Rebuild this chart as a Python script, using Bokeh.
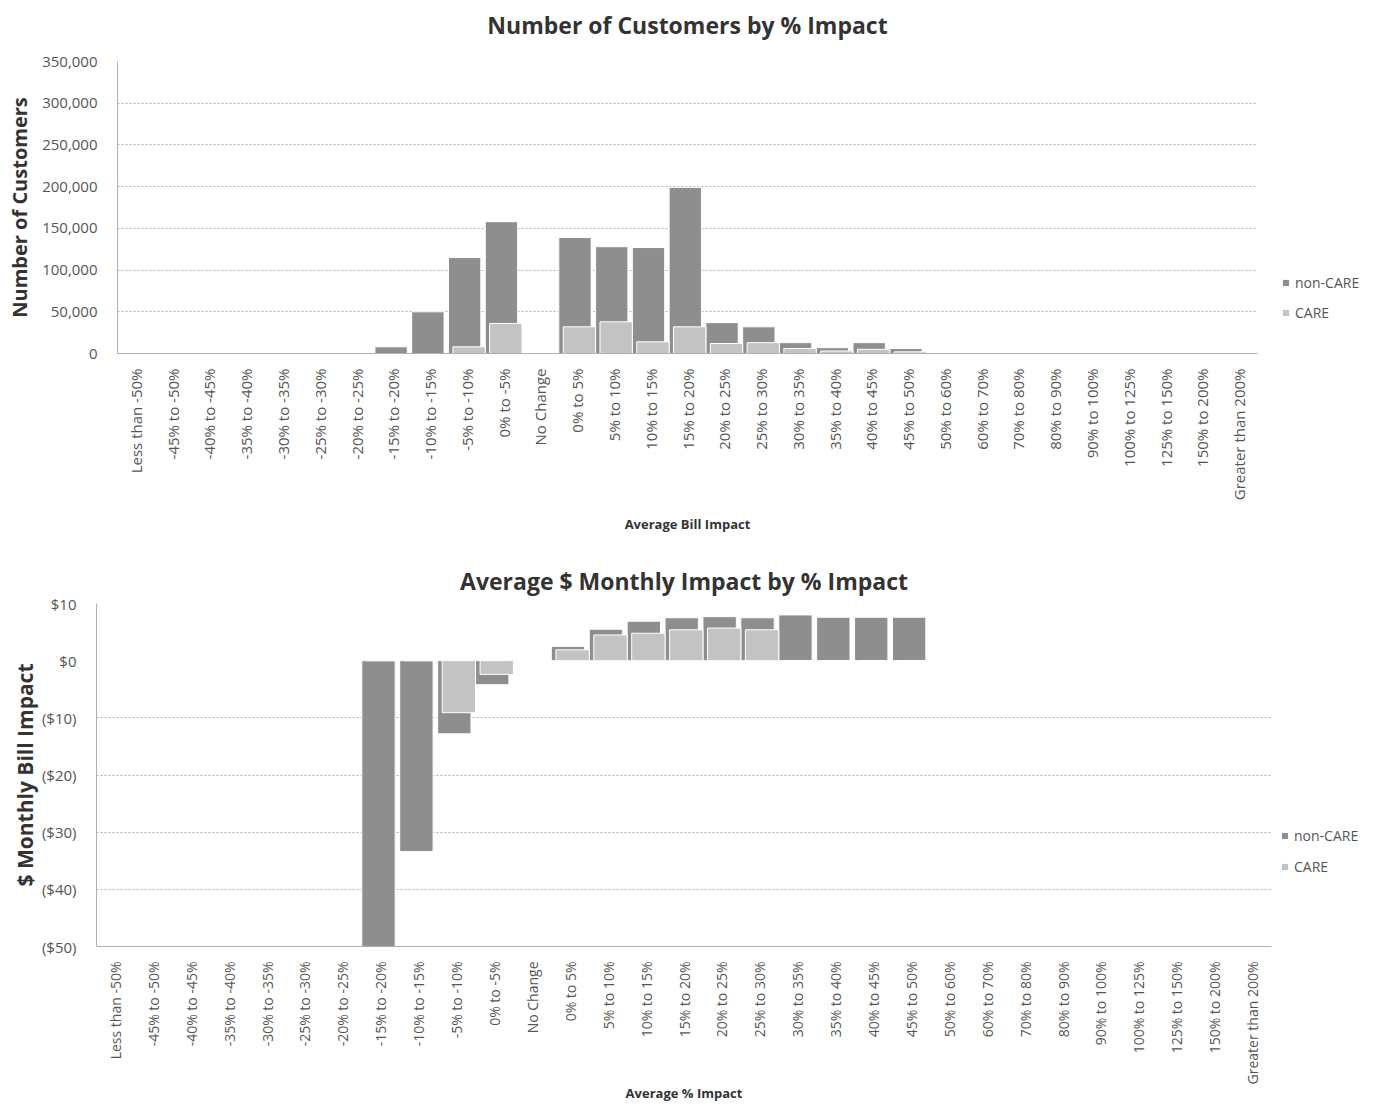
from math import pi
from bokeh.plotting import figure
from bokeh.models import (Range1d, FactorRange, Legend, LegendItem, Title,
                          FixedTicker, NumeralTickFormatter, ColumnDataSource)
from bokeh.transform import dodge
from bokeh.layouts import column, row
from bokeh.embed import file_html
from bokeh.resources import INLINE

categories = ["Less than -50%", "-45% to -50%", "-40% to -45%", "-35% to -40%",
              "-30% to -35%", "-25% to -30%", "-20% to -25%", "-15% to -20%",
              "-10% to -15%", "-5% to -10%", "0% to -5%", "No Change",
              "0% to 5%", "5% to 10%", "10% to 15%", "15% to 20%", "20% to 25%",
              "25% to 30%", "30% to 35%", "35% to 40%", "40% to 45%", "45% to 50%",
              "50% to 60%", "60% to 70%", "70% to 80%", "80% to 90%", "90% to 100%",
              "100% to 125%", "125% to 150%", "150% to 200%", "Greater than 200%"]

count_noncare = [0, 0, 0, 0, 0, 0, 0, 8000, 50000, 115000, 158000, 0,
                 139000, 128000, 127000, 199000, 37000, 32000, 13000, 7000, 13000, 6000,
                 0, 0, 0, 0, 0, 0, 0, 0, 0]
count_care = [0, 0, 0, 0, 0, 0, 0, 0, 0, 8000, 36000, 0,
              32000, 38000, 14000, 32000, 12000, 13000, 6000, 3000, 5000, 2000,
              0, 0, 0, 0, 0, 0, 0, 0, 0]

dollar_noncare = [0, 0, 0, 0, 0, 0, 0, -50, -33.4, -12.8, -4.2, 0,
                  2.5, 5.5, 6.9, 7.5, 7.7, 7.5, 8.0, 7.6, 7.6, 7.6,
                  0, 0, 0, 0, 0, 0, 0, 0, 0]
dollar_care = [0, 0, 0, 0, 0, 0, 0, 0, 0, -9.1, -2.4, 0,
               1.9, 4.5, 4.8, 5.4, 5.7, 5.4, 0, 0, 0, 0,
               0, 0, 0, 0, 0, 0, 0, 0, 0]

count_ticks = [0, 50000, 100000, 150000, 200000, 250000, 300000, 350000]
dollar_ticks = [-50, -40, -30, -20, -10, 0, 10]
dollar_tick_labels = ["($50)", "($40)", "($30)", "($20)", "($10)", "$0", "$10"]

NONCARE = "#8e8e8e"
CARE = "#c3c3c3"
FONT = "Open Sans"
TXT = "#333333"


def style(p, xfont):
    p.outline_line_color = None
    p.xgrid.grid_line_color = None
    p.ygrid.grid_line_color = "#b0b0b0"
    p.ygrid.grid_line_dash = "2 2"
    for ax in (p.xaxis[0], p.yaxis[0]):
        ax.major_tick_line_color = None
        ax.minor_tick_line_color = None
        ax.axis_line_color = "#b0b0b0"
        ax.major_label_text_font = FONT
        ax.major_label_text_color = "#555555"
        ax.major_label_text_font_size = "15px"
        ax.axis_label_text_font = FONT
        ax.axis_label_text_font_style = "bold"
        ax.axis_label_text_color = TXT
    p.xaxis.major_label_text_font_size = xfont
    p.xaxis.major_label_orientation = pi / 2
    p.xaxis.major_label_standoff = 9
    p.xaxis.axis_label_text_font_size = "13px"
    p.title.text_font = FONT
    p.title.text_color = TXT
    p.title.align = "center"
    p.background_fill_color = "white"
    p.border_fill_color = "white"


def add_bars(p, src, nc_key, c_key):
    r1 = p.vbar(x=dodge("cat", -0.06, range=p.x_range), top=nc_key, bottom=0,
                width=0.88, source=src, fill_color=NONCARE, line_color="white",
                line_width=1)
    r2 = p.vbar(x=dodge("cat", 0.06, range=p.x_range), top=c_key, bottom=0,
                width=0.88, source=src, fill_color=CARE, line_color="white",
                line_width=1)
    return r1, r2


def add_legend(p, r1, r2, x, y, spacing):
    leg = Legend(items=[LegendItem(label="non-CARE", renderers=[r1]),
                        LegendItem(label="CARE", renderers=[r2])],
                 location=(x, y), padding=0, margin=0, spacing=spacing,
                 glyph_width=9, glyph_height=9, label_height=20,
                 label_text_font=FONT, label_text_font_size="14px",
                 label_text_color="#555555", border_line_color=None,
                 background_fill_alpha=0)
    p.add_layout(leg, "right")


src = ColumnDataSource(dict(cat=categories, cnc=count_noncare, cc=count_care,
                            dnc=dollar_noncare, dc=dollar_care))

# ---------- Top chart ----------
p1 = figure(frame_width=1140, frame_height=292, x_range=FactorRange(*categories),
            y_range=Range1d(0, 350000), output_backend="svg",
            toolbar_location=None, title="Number of Customers by % Impact",
            min_border_left=117, min_border_right=127, min_border_top=61,
            min_border_bottom=184)
style(p1, "15px")
p1.title.text_font_size = "23px"
p1.title.standoff = 6
# empty spacer between title and plot area
p1.add_layout(Title(text=" ", text_font_size="1px", standoff=15), "above")
p1.yaxis.ticker = FixedTicker(ticks=count_ticks)
p1.yaxis.formatter = NumeralTickFormatter(format="0,0")
p1.yaxis.major_label_standoff = 14
p1.yaxis.axis_label = "Number of Customers"
p1.yaxis.axis_label_text_font_size = "20px"
p1.yaxis.axis_label_standoff = 6
p1.xaxis.axis_label = "Average Bill Impact"
p1.xaxis.axis_label_standoff = 12
a1, b1 = add_bars(p1, src, "cnc", "cc")
add_legend(p1, a1, b1, 24, 31, 10)

# ---------- Bottom chart ----------
p2 = figure(frame_width=1175, frame_height=343, x_range=FactorRange(*categories),
            y_range=Range1d(-50, 10), output_backend="svg",
            toolbar_location=None, title="Average $ Monthly Impact by % Impact",
            min_border_left=96, min_border_right=113, min_border_top=66,
            min_border_bottom=150)
style(p2, "14px")
p2.title.text_font_size = "23px"
p2.title.standoff = 14
p2.yaxis.ticker = FixedTicker(ticks=dollar_ticks)
p2.yaxis.major_label_overrides = {t: l for t, l in zip(dollar_ticks, dollar_tick_labels)}
p2.yaxis.major_label_standoff = 14
p2.yaxis.axis_label = "$ Monthly Bill Impact"
p2.yaxis.axis_label_text_font_size = "21px"
p2.yaxis.axis_label_standoff = 0
p2.xaxis.axis_label = "Average % Impact"
p2.xaxis.axis_label_standoff = -3
a2, b2 = add_bars(p2, src, "dnc", "dc")
add_legend(p2, a2, b2, 9, 70, 11)

layout = column(row(p1), row(p2))
open("out.html", "w").write(file_html(layout, INLINE))
